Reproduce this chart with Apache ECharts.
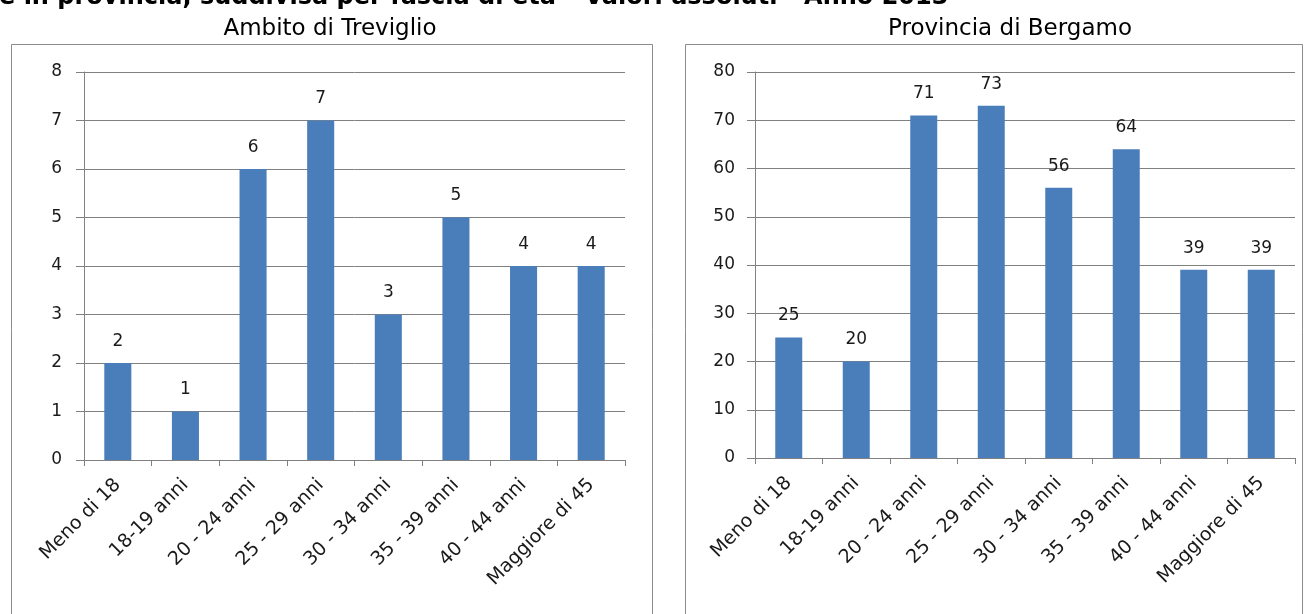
<!DOCTYPE html>
<html>
<head>
<meta charset="utf-8">
<script src="https://cdn.jsdelivr.net/npm/echarts@6/dist/echarts.min.js"></script>
<style>
html,body{margin:0;padding:0;background:#fff;}
#chart{width:1311px;height:614px;}
</style>
</head>
<body>
<div id="chart"></div>
<script>
const categories = ['Meno di 18','18-19 anni','20 - 24 anni','25 - 29 anni','30 - 34 anni','35 - 39 anni','40 - 44 anni','Maggiore di 45'];
const trevigliovalues = [2,1,6,7,3,5,4,4];
const bergamoValues = [25,20,71,73,56,64,39,39];
const pageTitle = 'e in provincia, suddivisa per fascia di età – Valori assoluti - Anno 2013';
const leftTitle = 'Ambito di Treviglio';
const rightTitle = 'Provincia di Bergamo';

const FONT = 'DejaVu Sans';
const BAR = '#4a7ebb';
const GRID = '#808080';

const chart = echarts.init(document.getElementById('chart'));

function xAxis(gi){
  return {
    type:'category', gridIndex:gi, data:categories,
    axisLine:{lineStyle:{color:GRID,width:1}},
    axisTick:{show:true,alignWithLabel:false,length:6,lineStyle:{color:GRID}},
    axisLabel:{rotate:45,interval:0,fontFamily:FONT,fontSize:19,color:'#1a1a1a',margin:22}
  };
}
function yAxis(gi,max,interval,margin){
  return {
    type:'value', gridIndex:gi, min:0, max:max, interval:interval,
    axisLine:{show:true,lineStyle:{color:GRID,width:1}},
    axisTick:{show:true,length:8,lineStyle:{color:GRID}},
    splitLine:{show:true,lineStyle:{color:GRID,width:1}},
    axisLabel:{fontFamily:FONT,fontSize:17,color:'#1a1a1a',margin:margin}
  };
}
function barSeries(gi,data){
  return {
    type:'bar', xAxisIndex:gi, yAxisIndex:gi, data:data,
    barWidth:'40%',
    itemStyle:{color:BAR},
    label:{show:true,position:'top',distance:13,fontFamily:FONT,fontSize:17,color:'#1a1a1a'},
    silent:true
  };
}

chart.setOption({
  animation:false,
  grid:[
    {left:84,right:686,top:72,bottom:154},
    {left:755,right:16,top:72,bottom:156}
  ],
  xAxis:[xAxis(0),xAxis(1)],
  yAxis:[yAxis(0,8,1,22),yAxis(1,80,10,20)],
  series:[barSeries(0,trevigliovalues),barSeries(1,bergamoValues)],
  graphic:[
    {type:'rect',shape:{x:11.5,y:44.5,width:641,height:600},style:{fill:null,stroke:'#8c8c8c',lineWidth:1},z:-1},
    {type:'rect',shape:{x:685.5,y:44.5,width:617,height:600},style:{fill:null,stroke:'#8c8c8c',lineWidth:1},z:-1},
    {type:'text',x:-1,y:10,style:{text:pageTitle,font:'bold 24px "DejaVu Sans"',fill:'#000',textVerticalAlign:'bottom'}},
    {type:'text',x:330,y:29,style:{text:leftTitle,font:'23px "DejaVu Sans"',fill:'#000',textAlign:'center',textVerticalAlign:'middle'}},
    {type:'text',x:1010,y:29,style:{text:rightTitle,font:'23px "DejaVu Sans"',fill:'#000',textAlign:'center',textVerticalAlign:'middle'}}
  ]
});
</script>
</body>
</html>
